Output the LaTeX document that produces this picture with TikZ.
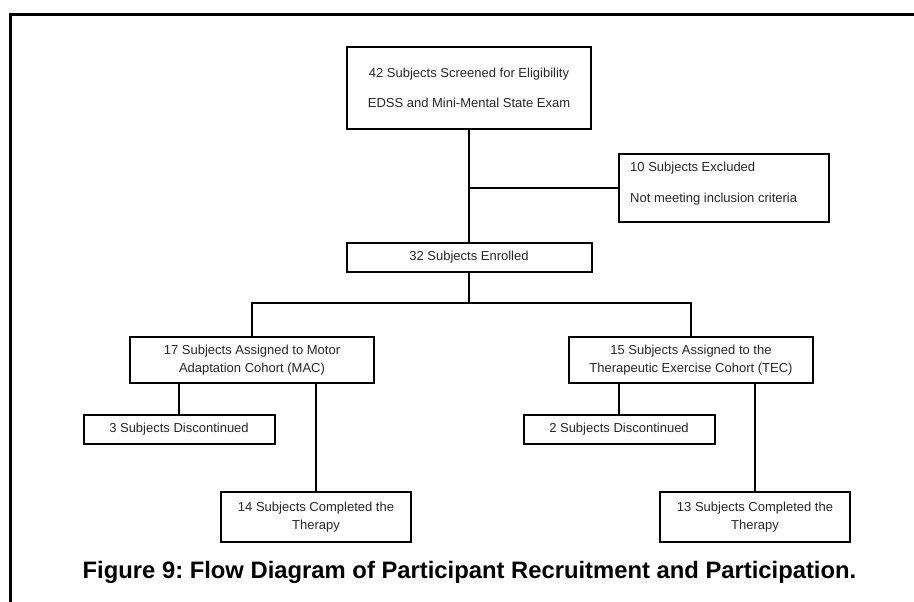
\documentclass[tikz,border=0pt]{standalone}
\usepackage{fontspec}
\setmainfont{Liberation Sans}
\frenchspacing
\begin{document}
\begin{tikzpicture}[x=1pt,y=-1pt,
  box/.style={draw=black, line width=2pt, rectangle, inner sep=0pt, align=center,
    font=\fontsize{13}{18}\selectfont, text=black!85},
  conn/.style={draw=black, line width=2pt},
  frame/.style={draw=black, line width=3pt}]
\useasboundingbox (0,0) rectangle (914,602);
% frame
\coordinate (fbl) at (10,602);
\coordinate (ftl) at (10,15);
\coordinate (ftr) at (914,15);
\draw[frame] (fbl) -- (ftl) -- (ftr);
% nodes
\node[box, minimum width=244pt, minimum height=82pt] (screen) at (469,88)
  {42 Subjects Screened for Eligibility\\[12pt]EDSS and Mini-Mental State Exam};
\node[box, minimum width=210pt, minimum height=68pt] (excl) at (724,188) {};
\node[anchor=west, align=left, inner sep=0pt, font=\fontsize{13}{18}\selectfont, text=black!85] (excltext) at (630,183.5)
  {10 Subjects Excluded\\[13pt]Not meeting inclusion criteria};
\node[box, minimum width=245pt, minimum height=29pt] (enrol) at (469,257.5) {32 Subjects Enrolled};
\node[box, minimum width=244pt, minimum height=46pt] (mac) at (252,360)
  {17 Subjects Assigned to Motor\\Adaptation Cohort (MAC)};
\node[box, minimum width=244pt, minimum height=46pt] (tec) at (691,360)
  {15 Subjects Assigned to the\\Therapeutic Exercise Cohort (TEC)};
\node[box, minimum width=191pt, minimum height=29pt] (disc1) at (179,429.5) {3 Subjects Discontinued};
\node[box, minimum width=191pt, minimum height=29pt] (disc2) at (619,429.5) {2 Subjects Discontinued};
\node[box, minimum width=190pt, minimum height=50pt] (comp1) at (316,517)
  {14 Subjects Completed the\\Therapy};
\node[box, minimum width=190pt, minimum height=50pt] (comp2) at (755,517)
  {13 Subjects Completed the\\Therapy};
\node[inner sep=0pt, font=\bfseries\fontsize{23.8}{26}\selectfont] (caption) at (469.5,572)
  {Figure 9: Flow Diagram of Participant Recruitment and Participation.};
% connectors
\coordinate (j1) at (screen.south |- excl.west);
\coordinate (j2) at (enrol.south |- 0,303);
\coordinate (bl) at (mac.north |- 0,303);
\coordinate (br) at (tec.north |- 0,303);
\draw[conn] (screen.south) -- (enrol.north);
\draw[conn] (j1) -- (excl.west);
\draw[conn] (enrol.south) -- (j2);
\draw[conn] (mac.north) -- (bl) -- (br) -- (tec.north);
\draw[conn] (disc1.north |- mac.south) -- (disc1.north);
\draw[conn] (comp1.north |- mac.south) -- (comp1.north);
\draw[conn] (disc2.north |- tec.south) -- (disc2.north);
\draw[conn] (comp2.north |- tec.south) -- (comp2.north);
\end{tikzpicture}
\end{document}
